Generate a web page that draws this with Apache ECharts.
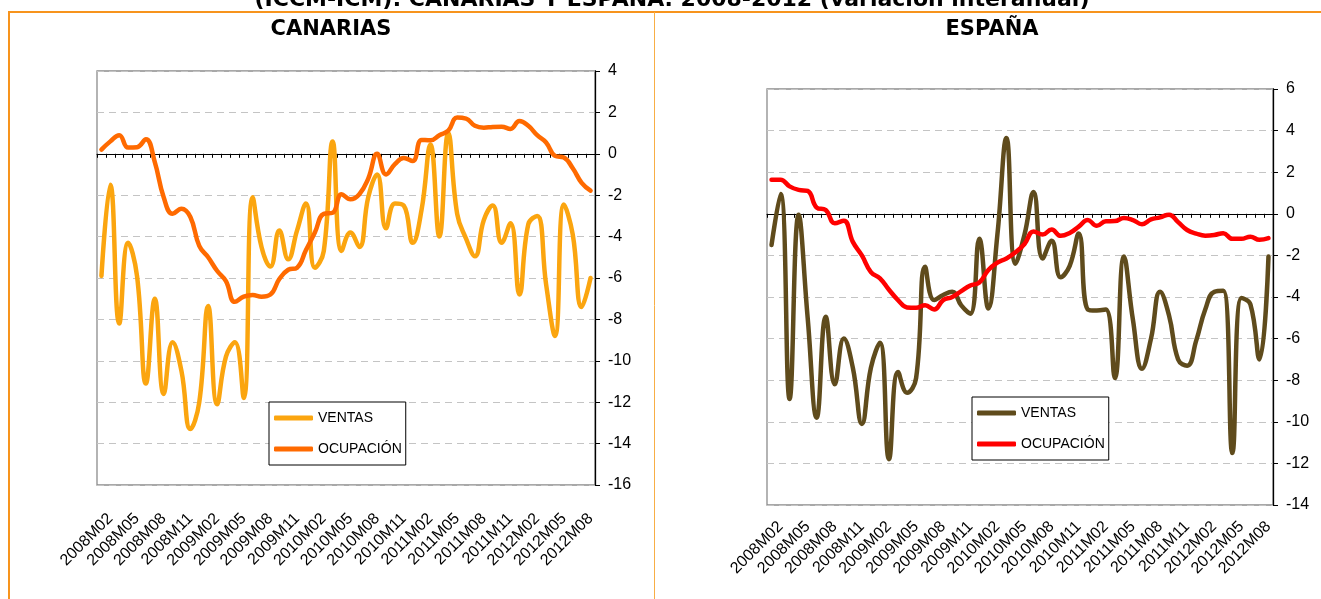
<!DOCTYPE html>
<html><head><meta charset="utf-8">
<script src="https://cdn.jsdelivr.net/npm/echarts@6/dist/echarts.min.js"></script>
<style>html,body{margin:0;padding:0;background:#fff}#c{width:1321px;height:599px}</style>
</head><body><div id="c"></div>
<script>
const categories = ['2008M01','2008M02','2008M03','2008M04','2008M05','2008M06','2008M07','2008M08','2008M09','2008M10','2008M11','2008M12',
'2009M01','2009M02','2009M03','2009M04','2009M05','2009M06','2009M07','2009M08','2009M09','2009M10','2009M11','2009M12',
'2010M01','2010M02','2010M03','2010M04','2010M05','2010M06','2010M07','2010M08','2010M09','2010M10','2010M11','2010M12',
'2011M01','2011M02','2011M03','2011M04','2011M05','2011M06','2011M07','2011M08','2011M09','2011M10','2011M11','2011M12',
'2012M01','2012M02','2012M03','2012M04','2012M05','2012M06','2012M07','2012M08'];
const xTickLabels = ['2008M02','2008M05','2008M08','2008M11','2009M02','2009M05','2009M08','2009M11','2010M02','2010M05','2010M08','2010M11','2011M02','2011M05','2011M08','2011M11','2012M02','2012M05','2012M08'];

const canariasVentas = [-5.9,-1.5,-8.2,-4.3,-5.9,-11.1,-7.0,-11.6,-9.1,-10.5,
 -13.3,-12.0,-7.35,-12.1,-9.8,-9.1,-11.8,-2.1,-4.5,-5.45,
 -3.7,-5.1,-3.7,-2.4,-5.5,-4.7,0.6,-4.7,-3.8,-4.5,
 -2.1,-1.0,-3.6,-2.4,-2.5,-4.3,-2.7,0.45,-4.0,1.0,
 -2.9,-4.1,-4.95,-3.2,-2.5,-4.3,-3.35,-6.8,-3.4,-3.0,
 -6.3,-8.8,-2.45,-3.9,-7.4,-6.0];
const canariasOcupacion = [0.2,0.6,0.9,0.3,0.32,0.7,-0.4,-2.1,-2.9,-2.65,
 -3.05,-4.45,-5.0,-5.65,-6.15,-7.15,-6.9,-6.82,-6.9,-6.8,
 -6.05,-5.6,-5.5,-4.65,-3.8,-2.9,-2.85,-1.95,-2.2,-1.95,
 -1.2,0.0,-1.0,-0.5,-0.2,-0.35,0.67,0.65,0.9,1.12,
 1.75,1.7,1.35,1.26,1.3,1.31,1.2,1.58,1.35,0.9,
 0.55,-0.1,-0.18,-0.7,-1.4,-1.78];
const espanaVentas = [-1.5,0.95,-8.9,-0.05,-5.0,-9.8,-4.95,-8.2,-6.0,-7.4,
 -10.1,-7.4,-6.2,-11.8,-7.6,-8.6,-7.9,-2.55,-4.15,-3.9,
 -3.75,-4.4,-4.8,-1.2,-4.55,-1.0,3.65,-2.4,-1.0,1.05,
 -2.15,-1.3,-3.05,-2.5,-0.95,-4.6,-4.65,-4.6,-7.9,-2.05,
 -5.1,-7.45,-6.0,-3.75,-4.9,-7.0,-7.3,-6.1,-4.6,-3.75,
 -3.7,-11.5,-4.05,-4.35,-7.0,-2.05];
const espanaOcupacion = [1.64,1.64,1.32,1.15,1.1,0.3,0.18,-0.45,-0.33,-1.35,
 -2.0,-2.8,-3.1,-3.65,-4.15,-4.5,-4.52,-4.4,-4.6,-4.15,
 -4.0,-3.72,-3.45,-3.3,-2.7,-2.35,-2.15,-1.85,-1.45,-0.85,
 -1.0,-0.75,-1.06,-0.92,-0.62,-0.3,-0.58,-0.36,-0.35,-0.2,
 -0.3,-0.5,-0.27,-0.17,-0.04,-0.4,-0.78,-0.95,-1.05,-1.02,
 -0.93,-1.2,-1.2,-1.1,-1.25,-1.17];

const canariasYTicks = {min:-16, max:4, step:2};
const espanaYTicks = {min:-14, max:6, step:2};
const seriesNames = ['VENTAS','OCUPACIÓN'];
const mainTitle = '(ICCM-ICM): CANARIAS Y ESPAÑA. 2008-2012 (variación interanual)';
const panelTitles = ['CANARIAS','ESPAÑA'];

const colors = {canV:'#FBA50F', canO:'#FF6A00', espV:'#5F4B1C', espO:'#FF0000'};
const axisFont = "'Liberation Sans', Arial, sans-serif";
const legendFont = "'Liberation Sans', Arial, sans-serif";
const titleFont = "'DejaVu Sans', sans-serif";

function xAxesFor(gridIndex, margin, fontSize){
  return [
    {type:'category', gridIndex, data:categories, boundaryGap:true, position:'bottom',
     axisLine:{show:false, onZero:false}, axisTick:{show:false}, splitLine:{show:false},
     axisLabel:{interval:(i,v)=>xTickLabels.includes(v), rotate:45, margin, fontSize, color:'#000', fontFamily:axisFont}},
    {type:'category', gridIndex, data:categories, boundaryGap:true, position:'bottom',
     axisLine:{show:true, onZero:true, lineStyle:{color:'#000', width:1}},
     axisTick:{show:true, interval:0, length:4, lineStyle:{color:'#000', width:1}},
     axisLabel:{show:false}, splitLine:{show:false}}
  ];
}
function yAxisFor(gridIndex, t, margin){
  return {type:'value', gridIndex, position:'right', min:t.min, max:t.max, interval:t.step,
    axisLine:{show:true, onZero:false, lineStyle:{color:'#000', width:1.3}},
    axisTick:{show:true, length:5, lineStyle:{color:'#000', width:1}},
    axisLabel:{margin, fontSize:16, color:'#000', fontFamily:axisFont, align:'left'},
    splitLine:{show:true, lineStyle:{color:'#c4c4c4', type:[7,5], width:1}}};
}
function lineSeries(name, xi, yi, data, color){
  return {type:'line', name, xAxisIndex:xi, yAxisIndex:yi, data, smooth:0.45, symbol:'none',
    lineStyle:{width:4.5, color, cap:'round', join:'round'}, itemStyle:{color}};
}
function legendFor(left, top, c1, c2){
  return {left, top, orient:'vertical', icon:'roundRect', itemWidth:39, itemHeight:5, itemGap:17,
    padding:[9,4,9,5], borderColor:'#000', borderWidth:1, backgroundColor:'#fff',
    textStyle:{fontSize:14, color:'#000', fontFamily:legendFont},
    selectedMode:false,
    data:[{name:seriesNames[0], itemStyle:{color:c1}}, {name:seriesNames[1], itemStyle:{color:c2}}]};
}

const option = {
  animation:false,
  backgroundColor:'#fff',
  grid:[
    {left:97, top:71, width:498, height:414, show:true, borderColor:'#8c8c8c', borderWidth:1.3, backgroundColor:'transparent'},
    {left:767, top:89, width:506, height:416, show:true, borderColor:'#8c8c8c', borderWidth:1.3, backgroundColor:'transparent'}
  ],
  xAxis:[...xAxesFor(0, 31, 16), ...xAxesFor(1, 19, 16)],
  yAxis:[yAxisFor(0, canariasYTicks, 13), yAxisFor(1, espanaYTicks, 13)],
  legend:[legendFor(269, 402, colors.canV, colors.canO), legendFor(972, 397, colors.espV, colors.espO)],
  series:[
    lineSeries(seriesNames[0], 0, 0, canariasVentas, colors.canV),
    lineSeries(seriesNames[1], 0, 0, canariasOcupacion, colors.canO),
    lineSeries(seriesNames[0], 2, 1, espanaVentas, colors.espV),
    lineSeries(seriesNames[1], 2, 1, espanaOcupacion, colors.espO)
  ],
  graphic:[
    {type:'line', shape:{x1:8, y1:12, x2:1321, y2:12}, style:{stroke:'#F7941D', lineWidth:2}},
    {type:'line', shape:{x1:9, y1:12, x2:9, y2:599}, style:{stroke:'#F7941D', lineWidth:2}},
    {type:'line', shape:{x1:654.5, y1:12, x2:654.5, y2:599}, style:{stroke:'#F8AE45', lineWidth:1}},
    {type:'text', x:672, y:0, style:{text:mainTitle, fontSize:22, fontWeight:'bold', fontFamily:titleFont, fill:'#000', align:'center', verticalAlign:'middle'}},
    {type:'text', x:331, y:30, style:{text:panelTitles[0], fontSize:21, fontWeight:'bold', fontFamily:titleFont, fill:'#000', align:'center', verticalAlign:'middle'}},
    {type:'text', x:992, y:30, style:{text:panelTitles[1], fontSize:21, fontWeight:'bold', fontFamily:titleFont, fill:'#000', align:'center', verticalAlign:'middle'}}
  ]
};
const chart = echarts.init(document.getElementById('c'));
chart.setOption(option);
</script></body></html>
